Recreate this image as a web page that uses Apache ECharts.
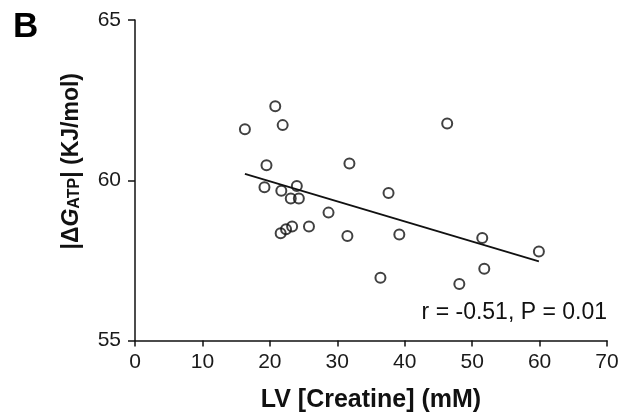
<!DOCTYPE html>
<html>
<head>
<meta charset="utf-8">
<script src="https://cdn.jsdelivr.net/npm/echarts@6/dist/echarts.min.js"></script>
<style>html,body{margin:0;padding:0;background:#fff}#c{width:630px;height:419px}</style>
</head>
<body>
<div id="c"></div>
<script>
// LV creatine (mM)
var creatine = [16.3, 20.8, 21.9, 19.5, 31.8, 19.2, 21.7, 24.0, 23.1, 24.3, 28.7, 25.8, 23.3, 22.4, 21.6, 31.5, 46.3, 37.6, 39.2, 51.5, 59.9, 51.8, 36.4, 48.1];
// |dG ATP| (kJ/mol)
var dGatp = [61.59, 62.31, 61.72, 60.47, 60.52, 59.78, 59.67, 59.82, 59.43, 59.43, 58.99, 58.56, 58.56, 58.47, 58.35, 58.26, 61.77, 59.60, 58.31, 58.20, 57.78, 57.24, 56.96, 56.76];
// regression line ends
var fitX = [16.3, 59.9];
var fitY = [60.20, 57.47];
var xTicks = [0, 10, 20, 30, 40, 50, 60, 70];
var yTicks = [55, 60, 65];
var statText = 'r = -0.51, P = 0.01';

var FONT = '"Liberation Sans", Arial, Helvetica, sans-serif';
var pts = creatine.map(function (x, i) { return [x, dGatp[i]]; });
var fit = fitX.map(function (x, i) { return [x, fitY[i]]; });

var chart = echarts.init(document.getElementById('c'), null, {renderer: 'canvas'});
chart.setOption({
  animation: false,
  backgroundColor: '#fff',
  grid: {left: 135, right: 23, top: 20, bottom: 78.5, containLabel: false},
  xAxis: {
    type: 'value', min: xTicks[0], max: xTicks[xTicks.length - 1], interval: 10,
    splitLine: {show: false},
    axisLine: {show: true, onZero: false, lineStyle: {color: '#111', width: 1.5}},
    axisTick: {show: true, length: 6, lineStyle: {color: '#111', width: 1.5}},
    axisLabel: {margin: 11, fontSize: 21, color: '#1a1a1a', fontFamily: FONT},
    name: 'LV [Creatine] (mM)', nameLocation: 'middle', nameGap: 47,
    nameTextStyle: {fontSize: 25, fontWeight: 'bold', color: '#111', fontFamily: FONT, verticalAlign: 'top'}
  },
  yAxis: {
    type: 'value', min: yTicks[0], max: yTicks[yTicks.length - 1], interval: 5,
    splitLine: {show: false},
    axisLine: {show: true, onZero: false, lineStyle: {color: '#111', width: 1.5}},
    axisTick: {show: true, length: 7, lineStyle: {color: '#111', width: 1.5}},
    axisLabel: {margin: 14, fontSize: 21, color: '#1a1a1a', fontFamily: FONT},
    name: '{b||Δ}{i|G}{s|ATP}{b|| (KJ/mol)}', nameLocation: 'middle', nameGap: 52, nameRotate: 90,
    nameTextStyle: {
      fontSize: 23, fontWeight: 'bold', color: '#111', fontFamily: FONT,
      padding: [0, 0, 0, 38],
      rich: {
        b: {fontSize: 23, fontWeight: 'bold', color: '#111', fontFamily: FONT},
        i: {fontSize: 23, fontWeight: 'bold', fontStyle: 'italic', color: '#111', fontFamily: FONT},
        s: {fontSize: 16, fontWeight: 'bold', color: '#111', fontFamily: FONT, padding: [6, 0, 0, 0]}
      }
    }
  },
  series: [
    {
      type: 'line', data: fit, showSymbol: false, symbol: 'none',
      lineStyle: {color: '#111', width: 1.8}, z: 2, silent: true
    },
    {
      type: 'scatter', data: pts, symbol: 'circle', symbolSize: 10,
      itemStyle: {color: 'rgba(255,255,255,0)', borderColor: '#111', borderWidth: 2}, z: 3
    }
  ],
  graphic: [
    {type: 'text', left: 13, top: 10, style: {text: 'B', fontSize: 35, fontWeight: 'bold', fill: '#000', fontFamily: FONT}},
    {type: 'text', right: 23, top: 301, style: {text: statText, fontSize: 23, fill: '#111', fontFamily: FONT}}
  ]
});
</script>
</body>
</html>
